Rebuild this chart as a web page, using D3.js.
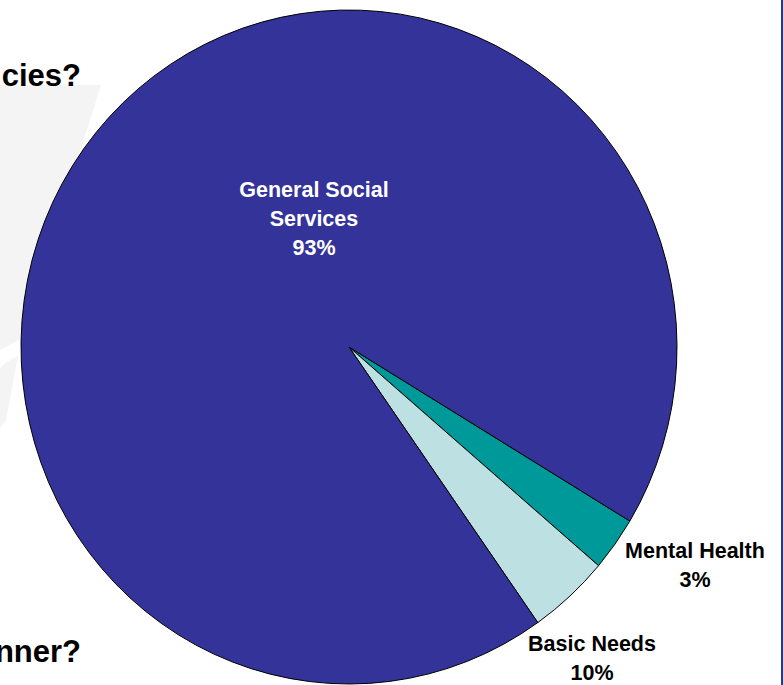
<!DOCTYPE html>
<html><head><meta charset="utf-8">
<script src="https://cdn.jsdelivr.net/npm/d3@7"></script>
<style>body{margin:0;background:#fff;overflow:hidden;} svg{display:block;}</style>
</head><body>
<script>
// Data (slice sizes; printed labels as shown)
const categories = ["Mental Health", "Basic Needs", "General Social Services"];
const values = [2.6, 4.0, 93.4];
const pctLabels = ["3%", "10%", "93%"];
const colors = ["#009999", "#BDE0E3", "#333399"];
const textColors = ["#000000", "#000000", "#ffffff"];
const labelLines = [["Mental Health"], ["Basic Needs"], ["General Social", "Services"]];
const labelPos = [[695, 558], [592, 651], [314, 197]];
const startDeg = 121.1;

const W = 783, H = 685;
const svg = d3.select("body").append("svg").attr("width", W).attr("height", H);

// faint background shapes
svg.append("path").attr("d", "M0,85 L101,85 L22,338 L0,350 Z").attr("fill", "#f4f4f4");
svg.append("path").attr("d", "M0,368 Q8,360 18,356 L6,420 L0,428 Z").attr("fill", "#f4f4f4");

// partial title text at left
const fontFam = "'Liberation Sans', Arial, Helvetica, sans-serif";
svg.append("text").attr("x", 81).attr("y", 86).attr("text-anchor", "end")
  .attr("font-family", fontFam).attr("font-weight", "bold").attr("font-size", 31).attr("fill", "#000").text("cies?");
svg.append("text").attr("x", 81).attr("y", 662).attr("text-anchor", "end")
  .attr("font-family", fontFam).attr("font-weight", "bold").attr("font-size", 31).attr("fill", "#000").text("nner?");

// right border
svg.append("rect").attr("x", 781).attr("y", 0).attr("width", 2).attr("height", H).attr("fill", "#1a3c9c");

const rx = 328, ry = 337;
const pie = d3.pie().sort(null).value(d => d)
  .startAngle(startDeg * Math.PI / 180)
  .endAngle(startDeg * Math.PI / 180 + 2 * Math.PI);
const arc = d3.arc().innerRadius(0).outerRadius(rx);

const g = svg.append("g").attr("transform", `translate(349,347) scale(1,${ry / rx})`);
g.selectAll("path").data(pie(values)).join("path")
  .attr("d", arc)
  .attr("fill", (d, i) => colors[i])
  .attr("stroke", "#000")
  .attr("stroke-width", 1)
  .attr("vector-effect", "non-scaling-stroke")
  .attr("stroke-linejoin", "round");

// labels
categories.forEach((c, i) => {
  const t = svg.append("text")
    .attr("font-family", fontFam).attr("font-weight", "bold").attr("font-size", 21.5)
    .attr("fill", textColors[i]).attr("text-anchor", "middle");
  const lines = labelLines[i].concat([pctLabels[i]]);
  lines.forEach((ln, k) => {
    t.append("tspan").attr("x", labelPos[i][0]).attr("y", labelPos[i][1] + k * 29.2).text(ln);
  });
});
</script>
</body></html>
